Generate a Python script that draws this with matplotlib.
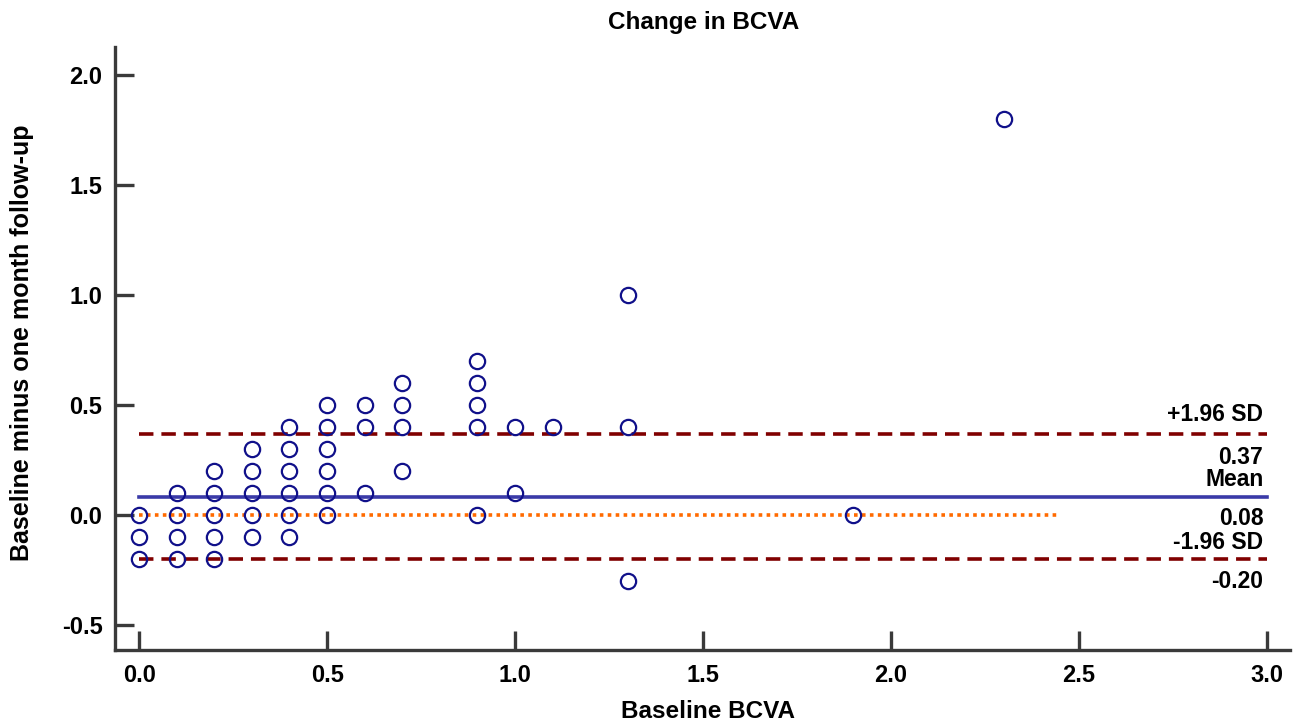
import matplotlib
matplotlib.use("Agg")
import matplotlib.pyplot as plt

plt.rcParams['font.family'] = ['Liberation Sans', 'DejaVu Sans']

# Data: baseline BCVA (x) and difference baseline - one month (y)
baseline = [0.0, 0.0, 0.0,
            0.1, 0.1, 0.1, 0.1,
            0.2, 0.2, 0.2, 0.2, 0.2,
            0.3, 0.3, 0.3, 0.3, 0.3,
            0.4, 0.4, 0.4, 0.4, 0.4, 0.4,
            0.5, 0.5, 0.5, 0.5, 0.5, 0.5,
            0.6, 0.6, 0.6,
            0.7, 0.7, 0.7, 0.7,
            0.9, 0.9, 0.9, 0.9, 0.9,
            1.0, 1.0,
            1.1,
            1.3, 1.3, 1.3,
            1.9,
            2.3]
difference = [0.0, -0.1, -0.2,
              0.1, 0.0, -0.1, -0.2,
              0.2, 0.1, 0.0, -0.1, -0.2,
              0.3, 0.2, 0.1, 0.0, -0.1,
              0.4, 0.3, 0.2, 0.1, 0.0, -0.1,
              0.5, 0.4, 0.3, 0.2, 0.1, 0.0,
              0.5, 0.4, 0.1,
              0.6, 0.5, 0.4, 0.2,
              0.7, 0.6, 0.5, 0.4, 0.0,
              0.4, 0.1,
              0.4,
              1.0, 0.4, -0.3,
              0.0,
              1.8]

mean_diff = 0.08
upper_loa = 0.37
lower_loa = -0.20
line_x = [0.0, 3.0]
zero_x = [0.0, 2.44]

xticks = [0.0, 0.5, 1.0, 1.5, 2.0, 2.5, 3.0]
yticks = [-0.5, 0.0, 0.5, 1.0, 1.5, 2.0]

W, H = 1293, 725
fig = plt.figure(figsize=(W / 100, H / 100), dpi=100)
ax = fig.add_axes([115 / W, 1 - 650 / H, (1290 - 115) / W, (650 - 47) / H])

spine_color = '#3a3a3a'
ax.plot(zero_x, [0, 0], color='#ff6a00', lw=2.6, linestyle=(0, (1, 1.2)), zorder=2)
ax.plot(line_x, [upper_loa, upper_loa], color='#800000', lw=2.6, linestyle=(0, (4, 2.2)), zorder=2)
ax.plot(line_x, [lower_loa, lower_loa], color='#800000', lw=2.6, linestyle=(0, (4, 2.2)), zorder=2)
ax.plot(line_x, [mean_diff, mean_diff], color='#3a3aa8', lw=2.6, zorder=2)

ax.plot(baseline, difference, linestyle='none', marker='o', markersize=11,
        markerfacecolor='none', markeredgecolor='#10108a', markeredgewidth=1.6, zorder=3)

ax.set_xlim(-0.064, 3.061)
ax.set_ylim(-0.614, 2.127)
ax.set_xticks(xticks)
ax.set_yticks(yticks)
ax.set_xticklabels([f"{v:.1f}" for v in xticks])
ax.set_yticklabels([f"{v:.1f}" for v in yticks])

for s in ['top', 'right']:
    ax.spines[s].set_visible(False)
for s in ['left', 'bottom']:
    ax.spines[s].set_color(spine_color)
    ax.spines[s].set_linewidth(2.4)

ax.tick_params(direction='in', length=14, width=2.4, color=spine_color,
               labelsize=17, pad=9)
ax.tick_params(axis='x', pad=10)
for lab in ax.get_xticklabels() + ax.get_yticklabels():
    lab.set_fontweight('bold')

fs = 16.5
tx = 2.99
ax.annotate('+1.96 SD', (tx, upper_loa), xytext=(0, 14), textcoords='offset points',
            ha='right', va='center', fontsize=fs, fontweight='bold')
ax.annotate(f'{upper_loa:.2f}', (tx, upper_loa), xytext=(0, -17), textcoords='offset points',
            ha='right', va='center', fontsize=fs, fontweight='bold')
ax.annotate('Mean', (tx, mean_diff), xytext=(0, 13), textcoords='offset points',
            ha='right', va='center', fontsize=fs, fontweight='bold')
ax.annotate(f'{mean_diff:.2f}', (tx, mean_diff), xytext=(0, -15.5), textcoords='offset points',
            ha='right', va='center', fontsize=fs, fontweight='bold')
ax.annotate('-1.96 SD', (tx, lower_loa), xytext=(0, 12), textcoords='offset points',
            ha='right', va='center', fontsize=fs, fontweight='bold')
ax.annotate(f'{lower_loa:.2f}', (tx, lower_loa), xytext=(0, -16), textcoords='offset points',
            ha='right', va='center', fontsize=fs, fontweight='bold')

fig.text(704 / W, 1 - 22 / H, 'Change in BCVA', ha='center', va='center',
         fontsize=17.5, fontweight='bold')
fig.text(708 / W, 1 - 712 / H, 'Baseline BCVA', ha='center', va='center',
         fontsize=17.5, fontweight='bold')
fig.text(22 / W, 1 - 343 / H, 'Baseline minus one month follow-up', ha='center', va='center',
         rotation=90, fontsize=18, fontweight='bold')

fig.savefig('out.png', dpi=100)
